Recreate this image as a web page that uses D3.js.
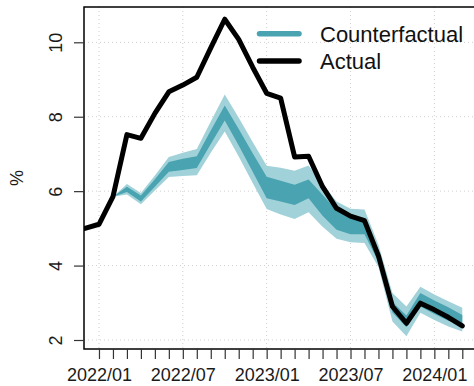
<!DOCTYPE html>
<html>
<head>
<meta charset="utf-8">
<script src="https://cdn.jsdelivr.net/npm/d3@7"></script>
<style>
  html, body { margin: 0; padding: 0; background: #fff; }
  svg { display: block; font-family: "Liberation Sans", Arial, sans-serif; }
</style>
</head>
<body>
<svg id="chart" width="474" height="386"></svg>
<script>
// Monthly inflation, actual vs counterfactual path with uncertainty bands
const months = ["2021/12","2022/01","2022/02","2022/03","2022/04","2022/05","2022/06",
  "2022/07","2022/08","2022/09","2022/10","2022/11","2022/12","2023/01","2023/02",
  "2023/03","2023/04","2023/05","2023/06","2023/07","2023/08","2023/09","2023/10",
  "2023/11","2023/12","2024/01","2024/02","2024/03"];

const actual = [5.00, 5.11, 5.85, 7.52, 7.42, 8.09, 8.67, 8.85, 9.06, 9.85, 10.62, 10.08,
  9.33, 8.63, 8.50, 6.92, 6.94, 6.12, 5.54, 5.33, 5.21, 4.26, 2.90, 2.45, 2.99, 2.81, 2.61, 2.38];

const counterfactual = [null, null, 5.85, 6.05, 5.80, 6.22, 6.65, 6.72, 6.78, 7.45, 8.10, 7.45,
  6.77, 6.10, 6.00, 5.90, 6.06, 5.62, 5.22, 5.08, 5.06, 4.26, 2.88, 2.50, 3.08, 2.88, 2.70, 2.55];

// inner (darker) band
const innerHigh = [null, null, 5.85, 6.12, 5.88, 6.32, 6.78, 6.87, 6.94, 7.63, 8.30, 7.67,
  7.02, 6.39, 6.28, 6.17, 6.31, 5.90, 5.48, 5.32, 5.28, 4.42, 3.02, 2.66, 3.26, 3.06, 2.88, 2.67];
const innerLow = [null, null, 5.85, 5.98, 5.72, 6.12, 6.52, 6.57, 6.62, 7.27, 7.90, 7.23,
  6.52, 5.81, 5.72, 5.63, 5.81, 5.34, 4.96, 4.84, 4.84, 4.10, 2.74, 2.34, 2.90, 2.70, 2.52, 2.43];

// outer (lighter) band
const outerHigh = [null, null, 5.85, 6.19, 5.95, 6.42, 6.92, 7.03, 7.13, 7.87, 8.60, 7.97,
  7.32, 6.68, 6.63, 6.55, 6.69, 6.20, 5.72, 5.53, 5.51, 4.56, 3.26, 2.90, 3.43, 3.22, 3.04, 2.87];
const outerLow = [null, null, 5.85, 5.91, 5.65, 6.02, 6.38, 6.41, 6.43, 7.03, 7.60, 6.93,
  6.22, 5.52, 5.37, 5.25, 5.43, 5.04, 4.72, 4.63, 4.61, 3.96, 2.50, 2.10, 2.73, 2.54, 2.36, 2.23];

const yTicks = [2, 4, 6, 8, 10];
const xLabels = ["2022/01", "2022/07", "2023/01", "2023/07", "2024/01"];
const legendLabels = ["Counterfactual", "Actual"];

const colors = { dark: "#4aa3b0", light: "#a2d2d9", actual: "#000000", grid: "#cfcfcf" };

const svg = d3.select("#chart");
const plot = { left: 84, top: 7, right: 474, bottom: 349 };

const x = d3.scalePoint().domain(months).range([85, 462.3]);
const y = d3.scaleLinear().domain([2, 10]).range([340, 42.3]);

svg.append("defs").append("clipPath").attr("id", "plotClip")
  .append("rect").attr("x", plot.left).attr("y", plot.top)
  .attr("width", plot.right - plot.left).attr("height", plot.bottom - plot.top);

// grid
const grid = svg.append("g").attr("stroke", colors.grid).attr("stroke-width", 1)
  .attr("stroke-dasharray", "1,3");
grid.selectAll("line.h").data(yTicks).join("line")
  .attr("x1", plot.left).attr("x2", plot.right)
  .attr("y1", d => y(d)).attr("y2", d => y(d));
grid.selectAll("line.v").data(xLabels).join("line")
  .attr("x1", d => x(d)).attr("x2", d => x(d))
  .attr("y1", plot.top).attr("y2", plot.bottom);

const idx = d3.range(months.length);
const g = svg.append("g").attr("clip-path", "url(#plotClip)");

const band = (lo, hi) => d3.area()
  .defined(i => lo[i] != null)
  .x(i => x(months[i])).y0(i => y(lo[i])).y1(i => y(hi[i]));

g.append("path").attr("d", band(outerLow, outerHigh)(idx)).attr("fill", colors.light);
g.append("path").attr("d", band(innerLow, innerHigh)(idx)).attr("fill", colors.dark);

g.append("path")
  .attr("d", d3.line().x(i => x(months[i])).y(i => y(actual[i]))(idx))
  .attr("fill", "none").attr("stroke", colors.actual).attr("stroke-width", 5)
  .attr("stroke-linejoin", "round").attr("stroke-linecap", "round");

// frame: left, top and bottom edges
const frame = svg.append("g").attr("stroke", "#000").attr("stroke-width", 1.5).attr("fill", "none");
frame.append("path").attr("d", `M${plot.right},${plot.top}H${plot.left}V${plot.bottom}H${plot.right}`);

// y axis
const yAxis = svg.append("g").attr("transform", `translate(${plot.left},0)`)
  .call(d3.axisLeft(y).tickValues(yTicks).tickSize(10).tickFormat(d3.format("d")));
yAxis.select(".domain").remove();
yAxis.selectAll(".tick line").attr("stroke", "#333").attr("stroke-width", 1.2);
yAxis.selectAll(".tick text")
  .attr("x", null).attr("dy", null).attr("text-anchor", "middle")
  .attr("transform", "translate(-22,0) rotate(-90)")
  .attr("font-size", 18).attr("fill", "#1a1a1a");

// x axis
const xAxis = svg.append("g").attr("transform", `translate(0,${plot.bottom})`)
  .call(d3.axisBottom(x).tickValues(months.slice(1)).tickSize(10)
    .tickFormat(d => xLabels.includes(d) ? d : ""));
xAxis.select(".domain").remove();
xAxis.selectAll(".tick line").attr("stroke", "#333").attr("stroke-width", 1.2);
xAxis.selectAll(".tick text").attr("y", 32).attr("dy", null)
  .attr("font-size", 18).attr("fill", "#1a1a1a");

// y title
svg.append("text").attr("transform", "translate(23,178) rotate(-90)")
  .attr("text-anchor", "middle").attr("font-size", 18).attr("fill", "#1a1a1a").text("%");

// legend
const legend = svg.append("g");
const legendColors = [colors.dark, colors.actual];
legendLabels.forEach((lab, i) => {
  const ly = 33.7 + i * 27.3;
  legend.append("line").attr("x1", 259.5).attr("x2", 299).attr("y1", ly).attr("y2", ly)
    .attr("stroke", legendColors[i]).attr("stroke-width", 5.5).attr("stroke-linecap", "round");
  legend.append("text").attr("x", 320).attr("y", ly + 8.3)
    .attr("font-size", 22).attr("fill", "#111").text(lab);
});
</script>
</body>
</html>
